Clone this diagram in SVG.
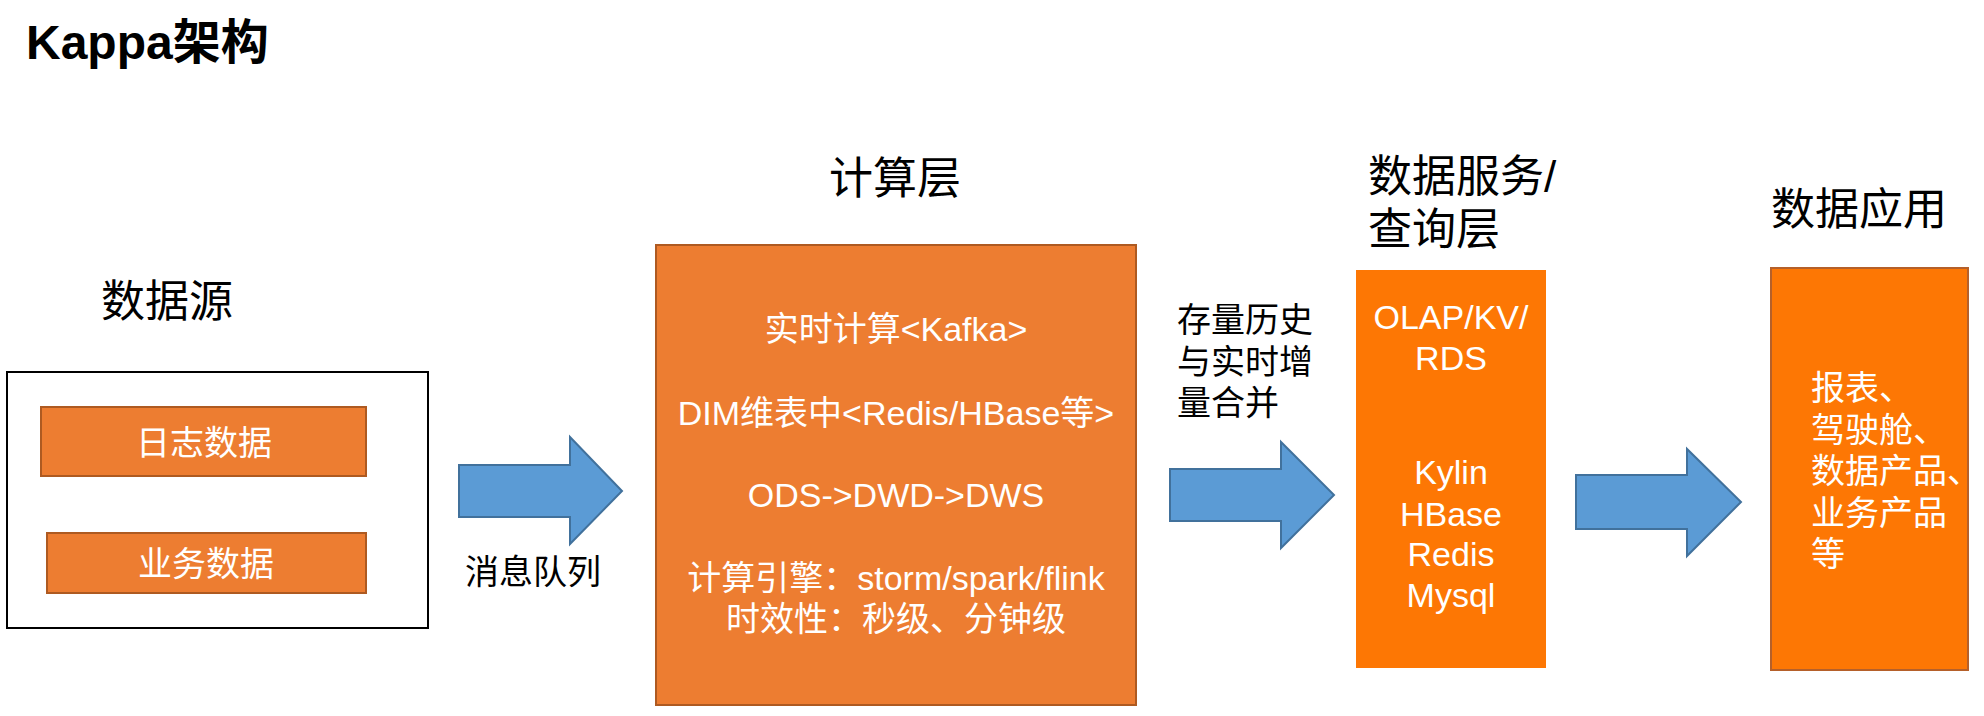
<svg xmlns="http://www.w3.org/2000/svg" width="1984" height="716" viewBox="0 0 1984 716">
<style>
text{font-family:"Liberation Sans","Noto Sans CJK SC",sans-serif;}
.title{font-size:48px;font-weight:bold;fill:#000;}
.hdr{font-size:44px;fill:#000;}
.lbl{font-size:34px;fill:#000;}
.wt{font-size:34px;fill:#fff;}
.mid{text-anchor:middle;}
.obox{fill:#ED7D31;stroke:#AE5A21;stroke-width:2;}
.bbox{fill:#FD7704;}
.arrow{fill:#5B9BD5;stroke:#41719C;stroke-width:2;}
</style>
<rect width="1984" height="716" fill="#fff"/>
<text class="title" x="26" y="59">Kappa架构</text>

<g id="source">
<text class="hdr mid" x="167" y="317">数据源</text>
<rect x="7" y="372" width="421" height="256" fill="none" stroke="#000" stroke-width="2"/>
</g>
<g id="log">
<rect class="obox" x="41" y="407" width="325" height="69"/>
<text class="wt mid" x="204" y="455">日志数据</text>
</g>
<g id="biz">
<rect class="obox" x="47" y="533" width="319" height="60"/>
<text class="wt mid" x="206" y="576">业务数据</text>
</g>

<g id="compute">
<text class="hdr mid" x="895" y="194">计算层</text>
<rect class="obox" x="656" y="245" width="480" height="460"/>
<text class="wt mid" x="896" y="341">实时计算&lt;Kafka&gt;</text>
<text class="wt mid" x="896" y="425">DIM维表中&lt;Redis/HBase等&gt;</text>
<text class="wt mid" x="896" y="507">ODS-&gt;DWD-&gt;DWS</text>
<text class="wt mid" x="896" y="590">计算引擎：storm/spark/flink</text>
<text class="wt mid" x="896" y="631">时效性：秒级、分钟级</text>
</g>

<g id="query">
<text class="hdr" x="1368" y="192">数据服务/</text>
<text class="hdr" x="1368" y="245">查询层</text>
<rect class="bbox" x="1356" y="270" width="190" height="398"/>
<text class="wt mid" x="1451" y="329">OLAP/KV/</text>
<text class="wt mid" x="1451" y="370">RDS</text>
<text class="wt mid" x="1451" y="484">Kylin</text>
<text class="wt mid" x="1451" y="526">HBase</text>
<text class="wt mid" x="1451" y="566">Redis</text>
<text class="wt mid" x="1451" y="607">Mysql</text>
</g>

<g id="app">
<text class="hdr" x="1771" y="225">数据应用</text>
<rect class="bbox" x="1771" y="268" width="197" height="402" stroke="#B5602A" stroke-width="2"/>
<text class="wt" x="1811" y="400">报表、</text>
<text class="wt" x="1811" y="441.5">驾驶舱、</text>
<text class="wt" x="1811" y="483">数据产品、</text>
<text class="wt" x="1811" y="524.5">业务产品</text>
<text class="wt" x="1811" y="566">等</text>
</g>

<g id="connectors">
<polygon class="arrow" points="459,465 570,465 570,437 622,491 570,544 570,517 459,517"/>
<text class="lbl" x="465" y="584">消息队列</text>
<polygon class="arrow" points="1170,469 1281,469 1281,442 1334,495 1281,548 1281,521 1170,521"/>
<text class="lbl" x="1177" y="332">存量历史</text>
<text class="lbl" x="1177" y="373.5">与实时增</text>
<text class="lbl" x="1177" y="415">量合并</text>
<polygon class="arrow" points="1576,475 1687,475 1687,449 1741,502 1687,556 1687,529 1576,529"/>
</g>
</svg>
